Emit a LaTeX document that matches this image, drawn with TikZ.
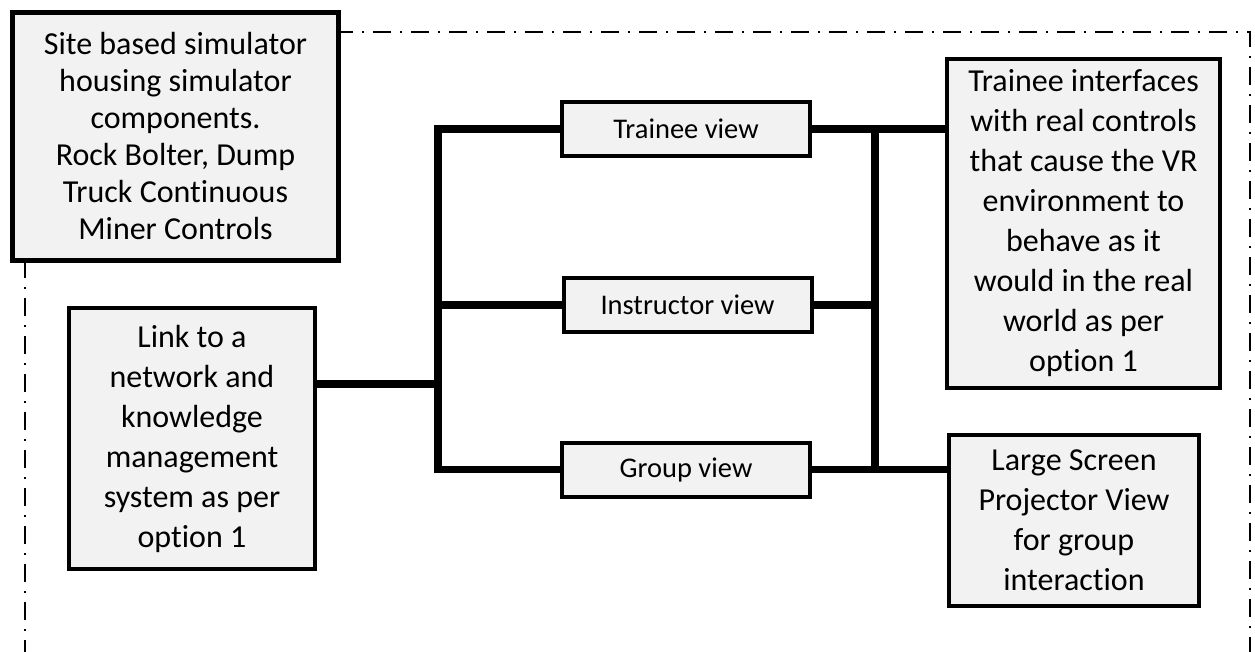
\documentclass[tikz,border=0pt]{standalone}
\usepackage{fontspec}
\setmainfont{Carlito}[Ligatures=NoCommon]
\definecolor{boxfill}{HTML}{F2F2F2}
\begin{document}
\begin{tikzpicture}[x=1pt,y=-1pt,
  box/.style={draw,line width=4pt,fill=boxfill,align=center,inner sep=0pt,font=\fontsize{32}{40}\selectfont},
  viewbox/.style={box,minimum width=248,minimum height=54,font=\fontsize{28.5}{32}\selectfont},
  wire/.style={line width=7.5pt},
  frame/.style={line width=2.5pt,dash pattern=on 18pt off 9pt on 2pt off 9pt}]
\useasboundingbox (0,0) rectangle (1255,652);
\begin{scope}
\clip (0,0) rectangle (1255,652);
\draw[frame] (25,32) rectangle (1250,700);
\end{scope}
\node[box,line width=5pt,minimum width=326,minimum height=248,font=\fontsize{32}{37}\selectfont] (site) at (175.5,136.5)
  {Site based simulator\\housing simulator\\components.\\Rock Bolter, Dump\\Truck Continuous\\Miner Controls};
\node[box,minimum width=246,minimum height=261] (link) at (192,438.5)
  {Link to a\\network and\\knowledge\\management\\system as per\\option 1};
\node[viewbox] (trainee) at (686,129) {Trainee view};
\node[viewbox] (instructor) at (687.5,305) {Instructor view};
\node[viewbox] (group) at (686,469.5) {Group view};
\node[box,minimum width=273,minimum height=329] (real) at (1083.5,223.5)
  {Trainee interfaces\\with real controls\\that cause the VR\\environment to\\behave as it\\would in the real\\world as per\\option 1};
\node[box,minimum width=250,minimum height=171] (screen) at (1074,520.5)
  {Large Screen\\Projector View\\for group\\interaction};
\coordinate (lb) at (438,384);
\coordinate (rb) at (875,300);
\draw[wire] (link.east |- lb) -- (lb);
\draw[wire] (trainee.west) -| (lb) |- (group.west);
\draw[wire] (instructor.west) -- (instructor.west -| lb);
\draw[wire] (trainee.east) -- (trainee.east -| real.west);
\draw[wire] (group.east) -- (group.east -| screen.west);
\draw[wire] (trainee.east -| rb) -- (group.east -| rb);
\draw[wire] (instructor.east) -- (instructor.east -| rb);
\end{tikzpicture}
\end{document}
